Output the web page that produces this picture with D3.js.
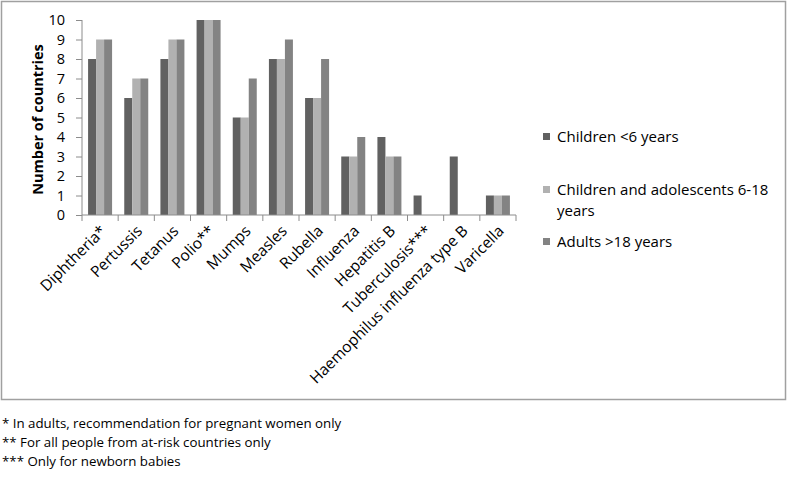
<!DOCTYPE html>
<html><head><meta charset="utf-8">
<script src="https://cdn.jsdelivr.net/npm/d3@7"></script>
<style>body{margin:0;background:#fff}svg{display:block;font-family:"Open Sans",sans-serif}</style>
</head><body>
<svg id="c" width="788" height="480"></svg>
<script>
const categories = ["Diphtheria*","Pertussis","Tetanus","Polio**","Mumps","Measles","Rubella","Influenza","Hepatitis B","Tuberculosis***","Haemophilus influenza type B","Varicella"];
const seriesNames = ["Children <6 years","Children and adolescents 6-18 years","Adults >18 years"];
const children6 = [8,6,8,10,5,8,6,3,4,1,3,1];
const children618 = [9,7,9,10,5,8,6,3,3,0,0,1];
const adults18 = [9,7,9,10,7,9,8,4,3,0,0,1];
const yTicks = [0,1,2,3,4,5,6,7,8,9,10];
const footnotes = ["* In adults, recommendation for pregnant women only","** For all people from at-risk countries only","*** Only for newborn babies"];

(function(){
const colors = ["#616161","#b1b1b1","#838383"];
const series = [children6, children618, adults18];

const svg = d3.select("#c");
svg.append("rect").attr("x",1.5).attr("y",1.5).attr("width",784).attr("height",398)
  .attr("fill","none").attr("stroke","#a0a0a0").attr("stroke-width",1.5);

const pl=82, pr=516, pt=20, pb=215;
const x = d3.scaleBand().domain(categories).range([pl,pr]).paddingInner(0).paddingOuter(0);
const y = d3.scaleLinear().domain([0,10]).range([pb,pt]);
const inner = 24, bw = 8;

const g = svg.append("g");
series.forEach((vals,si)=>{
  g.selectAll(".b"+si).data(vals).enter().append("rect")
    .attr("x",(d,i)=>x(categories[i]) + (x.bandwidth()-inner)/2 + si*bw)
    .attr("y",d=>y(d)).attr("width",bw).attr("height",d=>pb-y(d))
    .attr("fill",colors[si]);
});

const ya = svg.append("g").attr("transform",`translate(${pl},0)`)
  .call(d3.axisLeft(y).tickValues(yTicks).tickSize(6).tickPadding(11).tickFormat(d3.format("d")));
ya.select(".domain").attr("stroke","#8c8c8c").attr("d",`M0,${pt}V${pb}`);
ya.selectAll(".tick line").attr("stroke","#8c8c8c");
ya.selectAll("text").attr("font-size",14.5).attr("fill","#000").attr("font-family","Open Sans");

const xa = svg.append("g").attr("transform",`translate(0,${pb})`)
  .call(d3.axisBottom(x).tickSize(0).tickFormat(""));
xa.select(".domain").attr("stroke","#8c8c8c").attr("d",`M${pl},0H${pr}`);
const bounds = categories.map(c=>x(c)).concat([pr]);
xa.selectAll(".bt").data(bounds).enter().append("line")
  .attr("x1",d=>d).attr("x2",d=>d).attr("y1",0).attr("y2",6).attr("stroke","#8c8c8c");

svg.append("g").selectAll("text").data(categories).enter().append("text")
  .attr("transform",d=>`translate(${x(d)+x.bandwidth()/2+7},${pb+17}) rotate(-45)`)
  .attr("text-anchor","end").attr("font-size",15.5).attr("fill","#000").text(d=>d);

svg.append("text").attr("transform",`translate(43,${(pt+pb)/2+2}) rotate(-90)`)
  .attr("text-anchor","middle").attr("font-weight","bold").attr("font-size",14.5).text("Number of countries");

const legY = [137, 190, 242];
const lg = svg.append("g");
seriesNames.forEach((n,i)=>{
  lg.append("rect").attr("x",543).attr("y",legY[i]-4).attr("width",7).attr("height",7).attr("fill",colors[i]);
});
const fs = 15;
lg.append("text").attr("x",557).attr("y",legY[0]+5).attr("font-size",fs).text(seriesNames[0]);
lg.append("text").attr("x",557).attr("y",legY[1]+5).attr("font-size",fs).text("Children and adolescents 6-18");
lg.append("text").attr("x",557).attr("y",legY[1]+26).attr("font-size",fs).text("years");
lg.append("text").attr("x",557).attr("y",legY[2]+5).attr("font-size",fs).text(seriesNames[2]);

svg.append("g").selectAll("text").data(footnotes).enter().append("text")
  .attr("x",2).attr("y",(d,i)=>428+i*19).attr("font-size",13.3).text(d=>d);
})();
</script>
</body></html>
